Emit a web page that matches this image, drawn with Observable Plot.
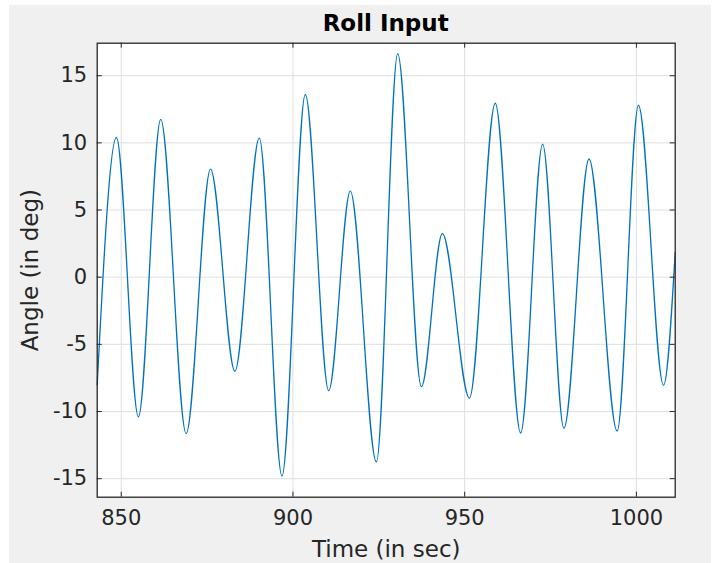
<!DOCTYPE html>
<html>
<head>
<meta charset="utf-8">
<script src="https://cdn.jsdelivr.net/npm/d3@7"></script>
<script src="https://cdn.jsdelivr.net/npm/@observablehq/plot@0.6"></script>
<style>
  body { margin: 0; background: #ffffff; }
  #fig { position: relative; width: 716px; height: 563px; background: #ffffff; overflow: hidden; font-family: "DejaVu Sans", sans-serif; }
  #bg { position: absolute; left: 9px; top: 5px; width: 702px; height: 558px; background: #f0f0f0; }
  #title { position: absolute; left: 285.7px; width: 200px; top: 12px; height: 24px; line-height: 23px; text-align: center; font-weight: bold; font-size: 23px; color: #000; white-space: nowrap; }
  #chart { position: absolute; left: 0; top: 36px; }
</style>
</head>
<body>
<div id="fig">
  <div id="bg"></div>
  <div id="title">Roll Input</div>
  <div id="chart"></div>
</div>
<script>
// Extrema (and the two edge points)
const times  = [843, 848.6, 855.0, 861.5, 868.9, 876.0, 883.1, 890.2, 896.8, 903.6, 910.4, 916.7, 924.3, 930.5, 937.4, 943.5, 951.4, 958.9, 966.3, 972.7, 978.9, 986.2, 994.4, 1000.6, 1007.9, 1011.3];
const angles = [-8.0, 10.4, -10.4, 11.75, -11.65, 8.05, -7.0, 10.35, -14.8, 13.6, -8.45, 6.4, -13.75, 16.65, -8.15, 3.25, -9.0, 12.95, -11.6, 9.9, -11.25, 8.8, -11.45, 12.8, -8.05, 1.85];

const xTicks = [850, 900, 950, 1000];
const yTicks = [-15, -10, -5, 0, 5, 10, 15];
const xDomain = [843, 1011.3];
const yDomain = [-16.38, 17.42];
const xLabel = "Time (in sec)";
const yLabel = "Angle (in deg)";

const data = times.map((t, i) => ({t, v: angles[i]}));

const W = 716, H = 527;
const mTop = 6.7, mBottom = 66.3, mLeft = 96.7, mRight = 41.3;
const frameH = H - mTop - mBottom;
const frameW = W - mLeft - mRight;
const tickLen = 5;
const axisColor = "#262626";

const chart = Plot.plot({
  width: W,
  height: H,
  marginTop: mTop,
  marginBottom: mBottom,
  marginLeft: mLeft,
  marginRight: mRight,
  style: {background: "transparent", fontFamily: "DejaVu Sans, sans-serif", overflow: "visible"},
  x: {domain: xDomain},
  y: {domain: yDomain},
  marks: [
    Plot.frame({fill: "#ffffff", stroke: "none"}),
    Plot.ruleX(xTicks, {stroke: "#dfdfdf", strokeWidth: 1}),
    Plot.ruleY(yTicks, {stroke: "#dfdfdf", strokeWidth: 1}),
    Plot.line(data, {x: "t", y: "v", stroke: "#0072BD", strokeWidth: 1.3, curve: "monotone-x"}),
    Plot.ruleX(xTicks, {insetTop: frameH - tickLen, stroke: axisColor}),
    Plot.ruleX(xTicks, {insetBottom: frameH - tickLen, stroke: axisColor}),
    Plot.ruleY(yTicks, {insetRight: frameW - tickLen, stroke: axisColor}),
    Plot.ruleY(yTicks, {insetLeft: frameW - tickLen, stroke: axisColor}),
    Plot.frame({stroke: axisColor, strokeWidth: 1.3}),
    Plot.axisX(xTicks, {anchor: "bottom", tickSize: 0, tickPadding: 13, fontSize: 21, color: axisColor,
      tickFormat: d => String(d),
      label: xLabel, labelAnchor: "center", labelOffset: 60, labelArrow: "none"}),
    Plot.axisY(yTicks, {anchor: "left", tickSize: 0, tickPadding: 10, fontSize: 21, color: axisColor,
      tickFormat: d => String(d),
      label: yLabel, labelAnchor: "center", labelOffset: 76, labelArrow: "none"})
  ]
});
// axis label font size matching the reference
chart.querySelectorAll("text").forEach(t => {
  if (t.textContent === xLabel || t.textContent === yLabel) t.setAttribute("font-size", 23);
});
document.getElementById("chart").appendChild(chart);
</script>
</body>
</html>
